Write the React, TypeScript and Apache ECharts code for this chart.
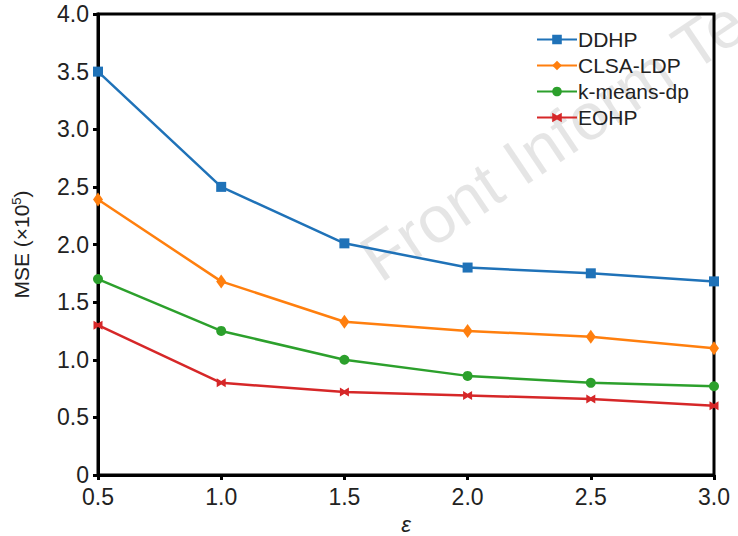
import React, { useEffect, useRef } from "react";
import * as echarts from "echarts";

const epsilons = [0.5, 1.0, 1.5, 2.0, 2.5, 3.0];
const ddhp = [3.5, 2.5, 2.01, 1.8, 1.75, 1.68];
const clsaLdp = [2.39, 1.68, 1.33, 1.25, 1.2, 1.1];
const kmeansDp = [1.7, 1.25, 1.0, 0.86, 0.8, 0.77];
const eohp = [1.3, 0.8, 0.72, 0.69, 0.66, 0.6];
const seriesNames = ["DDHP", "CLSA-LDP", "k-means-dp", "EOHP"];
const colors = ["#1f72b8", "#ff7f0e", "#2ca02c", "#d62728"];

const pair = (ys: number[]) => epsilons.map((x, i) => [x, ys[i]]);

export default function App() {
  const ref = useRef<HTMLDivElement>(null);
  useEffect(() => {
    if (!ref.current) return;
    const chart = echarts.init(ref.current, undefined, { renderer: "svg" });
    const font = "'Liberation Sans', Arial, sans-serif";
    const axisLabel = { fontSize: 23, color: "#222", fontFamily: font };
    const starPath = "path://M0,0L4,3L8,0L8,10L4,7L0,10Z";
    const symbols = ["rect", "diamond", "circle", starPath];
    const sizes: any[] = [10, [10, 14], 10, [9, 9]];
    const data = [ddhp, clsaLdp, kmeansDp, eohp];
    chart.setOption({
      animation: false,
      backgroundColor: "#fff",
      graphic: [
        {
          type: "text",
          x: 386,
          y: 292,
          rotation: (34 * Math.PI) / 180,
          z: 0,
          style: {
            text: "Front Inform Technol",
            fontSize: 66,
            fill: "rgba(0,0,0,0.1)",
            fontFamily: font,
            textVerticalAlign: "bottom",
          },
        },
      ],
      grid: {
        left: 98,
        right: 24,
        top: 14,
        bottom: 61,
        outerBoundsMode: "none",
        containLabel: false,
        show: true,
        borderColor: "#000",
        borderWidth: 3,
        backgroundColor: "transparent",
      },
      legend: {
        orient: "vertical",
        left: 531,
        top: 24,
        itemWidth: 40,
        itemHeight: 12,
        itemGap: 5,
        data: seriesNames,
        textStyle: { fontSize: 21, color: "#222", fontFamily: font, padding: [0, 0, 0, -4] },
      },
      xAxis: {
        type: "value",
        min: 0.5,
        max: 3.0,
        interval: 0.5,
        name: "ε",
        nameLocation: "middle",
        nameGap: 38,
        nameTextStyle: { fontSize: 22, fontStyle: "italic", color: "#222", fontFamily: font },
        axisLine: { lineStyle: { color: "#000", width: 3 } },
        axisTick: { length: 5, lineStyle: { color: "#000", width: 3 } },
        axisLabel: { ...axisLabel, margin: 10, formatter: (v: number) => v.toFixed(1) },
        splitLine: { show: false },
      },
      yAxis: {
        type: "value",
        min: 0,
        max: 4,
        interval: 0.5,
        name: "{a|MSE (×10}{s|5}{a|)}",
        nameLocation: "middle",
        nameGap: 66,
        nameTextStyle: {
          rich: {
            a: { fontSize: 21, color: "#222", fontFamily: font },
            s: { fontSize: 13, color: "#222", fontFamily: font, verticalAlign: "top", padding: [0, 0, 9, 0] },
          },
        },
        axisLine: { lineStyle: { color: "#000", width: 3 } },
        axisTick: { length: 5, lineStyle: { color: "#000", width: 3 } },
        axisLabel: { ...axisLabel, margin: 9, formatter: (v: number) => (v === 0 ? "0" : v.toFixed(1)) },
        splitLine: { show: false },
      },
      series: seriesNames.map((name, i) => ({
        name,
        type: "line",
        data: pair(data[i]),
        symbol: symbols[i],
        symbolSize: sizes[i],
        showAllSymbol: true,
        clip: false,
        z: 3 + (3 - i),
        lineStyle: { color: colors[i], width: 2.5 },
        itemStyle: { color: colors[i] },
      })),
    });
    return () => chart.dispose();
  }, []);
  return (
    <div
      ref={ref}
      style={{ position: "fixed", left: 0, top: 0, width: 738, height: 536 }}
    />
  );
}
